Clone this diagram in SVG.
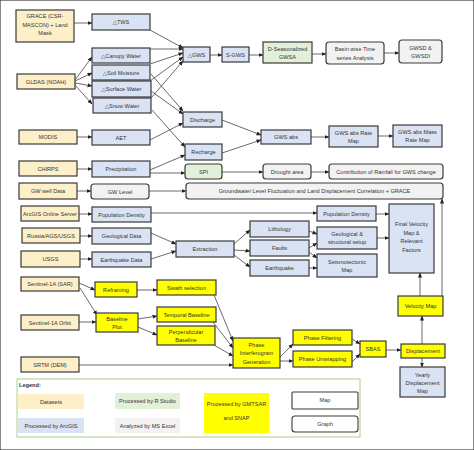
<svg xmlns="http://www.w3.org/2000/svg" width="474" height="450" viewBox="0 0 474 450">
<defs>
<marker id="ah" viewBox="0 0 10 10" refX="9" refY="5" markerWidth="5" markerHeight="5" orient="auto" markerUnits="userSpaceOnUse"><path d="M0,1 L10,5 L0,9 z" fill="#222"/></marker>
<style>
rect{stroke:#3a3a3a;stroke-width:1.2}
.ds{fill:#fdf0c9}
.ar{fill:#dae3f3}
.rs{fill:#e2efd9}
.ex{fill:#f2f2f2}
.ye{fill:#ffff00}
.wh{fill:#ffffff}
text{font-family:"Liberation Sans","DejaVu Sans",sans-serif;font-size:5.6px;fill:#333;text-anchor:middle}
.lg rect{stroke:none}
#connectors line{stroke:#444;stroke-width:0.8;fill:none;marker-end:url(#ah)}
</style>
</defs>
<rect width="474" height="450" fill="#fff" stroke="none"/>

<g id="connectors">
<line x1="74" y1="23" x2="92" y2="23"/>
<line x1="150" y1="30" x2="183" y2="48"/>
<line x1="150" y1="49" x2="183" y2="49"/>
<line x1="150" y1="64" x2="183" y2="53"/>
<line x1="150" y1="81" x2="183" y2="57"/>
<line x1="151" y1="98" x2="183" y2="61"/>
<line x1="75" y1="80" x2="92" y2="57"/>
<line x1="75" y1="81" x2="92" y2="73"/>
<line x1="75" y1="83" x2="92" y2="86"/>
<line x1="75" y1="85" x2="92" y2="104"/>
<line x1="151" y1="74" x2="183" y2="111"/>
<line x1="151" y1="91" x2="183" y2="114"/>
<line x1="152" y1="110" x2="185" y2="147"/>
<line x1="150" y1="140" x2="183" y2="123"/>
<line x1="222" y1="120" x2="261" y2="135"/>
<line x1="222" y1="153" x2="261" y2="140"/>
<line x1="210" y1="55" x2="222" y2="55"/>
<line x1="249" y1="55" x2="263" y2="55"/>
<line x1="312" y1="54" x2="326" y2="54"/>
<line x1="384" y1="53" x2="399" y2="53"/>
<line x1="311" y1="137" x2="329" y2="137"/>
<line x1="378" y1="136" x2="393" y2="136"/>
<line x1="77" y1="137" x2="92" y2="137"/>
<line x1="77" y1="169" x2="92" y2="169"/>
<line x1="150" y1="170" x2="185" y2="155"/>
<line x1="150" y1="173" x2="185" y2="173"/>
<line x1="222" y1="172" x2="263" y2="172"/>
<line x1="311" y1="172" x2="329" y2="172"/>
<line x1="77" y1="191" x2="91" y2="191"/>
<line x1="149" y1="191" x2="186" y2="191"/>
<line x1="79" y1="214" x2="92" y2="214"/>
<line x1="151" y1="213" x2="317" y2="213"/>
<line x1="80" y1="236" x2="92" y2="236"/>
<line x1="80" y1="259" x2="92" y2="259"/>
<line x1="151" y1="233" x2="176" y2="244"/>
<line x1="151" y1="259" x2="176" y2="251"/>
<line x1="234" y1="244" x2="250" y2="230"/>
<line x1="234" y1="250" x2="250" y2="251"/>
<line x1="234" y1="255" x2="250" y2="267"/>
<line x1="309" y1="231" x2="317" y2="234"/>
<line x1="309" y1="248" x2="317" y2="243"/>
<line x1="309" y1="252" x2="317" y2="258"/>
<line x1="309" y1="268" x2="317" y2="268"/>
<line x1="376" y1="214" x2="389" y2="214"/>
<line x1="377" y1="238" x2="389" y2="238"/>
<line x1="420" y1="296" x2="420" y2="273"/>
<line x1="422" y1="344" x2="422" y2="316"/>
<line x1="422" y1="358" x2="422" y2="367"/>
<line x1="442" y1="296" x2="442" y2="199"/>
<line x1="79" y1="283" x2="95" y2="290"/>
<line x1="80" y1="288" x2="97" y2="315"/>
<line x1="79" y1="322" x2="96" y2="322"/>
<line x1="137" y1="290" x2="157" y2="290"/>
<line x1="138" y1="319" x2="157" y2="316"/>
<line x1="138" y1="327" x2="157" y2="335"/>
<line x1="214" y1="295" x2="233" y2="341"/>
<line x1="213" y1="322" x2="233" y2="348"/>
<line x1="214" y1="345" x2="233" y2="356"/>
<line x1="79" y1="365" x2="233" y2="365"/>
<line x1="280" y1="357" x2="293" y2="344"/>
<line x1="280" y1="361" x2="293" y2="361"/>
<line x1="352" y1="339" x2="360" y2="344"/>
<line x1="352" y1="362" x2="360" y2="354"/>
<line x1="386" y1="350" x2="401" y2="350"/>
</g>

<g id="n-grace"><rect class="ds" x="16" y="10" width="58" height="32"/><text x="45" y="18">GRACE (CSR-</text><text x="45" y="26.5">MASCON) + Land</text><text x="45" y="35">Mask</text></g>
<g id="n-gldas"><rect class="ds" x="17" y="74" width="58" height="15"/><text x="46" y="83.5">GLDAS (NOAH)</text></g>
<g id="n-modis"><rect class="ds" x="19" y="130" width="58" height="14"/><text x="48" y="139">MODIS</text></g>
<g id="n-chirps"><rect class="ds" x="19" y="161" width="58" height="15"/><text x="48" y="170.5">CHIRPS</text></g>
<g id="n-gwwell"><rect class="ds" x="19" y="183" width="58" height="16"/><text x="48" y="193">GW well Data</text></g>
<g id="n-arcgis"><rect class="ds" x="21" y="206" width="58" height="15"/><text x="50" y="215.5">ArcGIS Online Server</text></g>
<g id="n-russia"><rect class="ds" x="22" y="228" width="58" height="15"/><text x="51" y="237.5">Russia/AGS/USGS</text></g>
<g id="n-usgs"><rect class="ds" x="21" y="251" width="59" height="16"/><text x="50.5" y="261">USGS</text></g>
<g id="n-s1sar"><rect class="ds" x="21" y="277" width="58" height="14"/><text x="50" y="286">Sentinel-1A (SAR)</text></g>
<g id="n-s1orb"><rect class="ds" x="21" y="315" width="58" height="15"/><text x="50" y="324.5">Sentinel-1A Orbit</text></g>
<g id="n-srtm"><rect class="ds" x="21" y="357" width="58" height="15"/><text x="50" y="366.5">SRTM (DEM)</text></g>

<g id="n-tws"><rect class="ar" x="92" y="14" width="58" height="16"/><text x="121" y="24">△TWS</text></g>
<g id="n-canopy"><rect class="ar" x="92" y="48" width="58" height="15"/><text x="121" y="57.5">△Canopy Water</text></g>
<g id="n-soil"><rect class="ar" x="92" y="65" width="58" height="15"/><text x="121" y="74.5">△Soil Moisture</text></g>
<g id="n-surface"><rect class="ar" x="92" y="81" width="59" height="16"/><text x="121.5" y="91">△Surface Water</text></g>
<g id="n-snow"><rect class="ar" x="93" y="98" width="58" height="15"/><text x="122" y="107.5">△Snow Water</text></g>
<g id="n-aet"><rect class="ar" x="92" y="130" width="58" height="15"/><text x="121" y="139.5">AET</text></g>
<g id="n-precip"><rect class="ar" x="92" y="161" width="58" height="16"/><text x="121" y="171">Precipitation</text></g>
<g id="n-gwlevel"><rect class="ex" x="91" y="184" width="58" height="15" rx="3"/><text x="120" y="193.5">GW Level</text></g>
<g id="n-popd1"><rect class="ar" x="92" y="207" width="59" height="15"/><text x="121.5" y="216.5">Population Density</text></g>
<g id="n-geod"><rect class="ar" x="92" y="228" width="59" height="16"/><text x="121.5" y="238">Geological Data</text></g>
<g id="n-eqd"><rect class="ar" x="92" y="252" width="59" height="15"/><text x="121.5" y="261.5">Earthquake Data</text></g>

<g id="n-gws"><rect class="ar" x="183" y="47" width="27" height="15"/><text x="196.5" y="56.5">△GWS</text></g>
<g id="n-sgws"><rect class="ar" x="222" y="47" width="27" height="15"/><text x="235.5" y="56.5">S-GWS</text></g>
<g id="n-dseas"><rect class="rs" x="263" y="42" width="49" height="21"/><text x="287.5" y="50.5">D-Seasonalized</text><text x="287.5" y="58.5">GWSA</text></g>
<g id="n-basin"><rect class="ex" x="326" y="42" width="58" height="22" rx="3"/><text x="355" y="51">Basin wise Time</text><text x="355" y="59.5">series Analysis</text></g>
<g id="n-gwsd"><rect class="ex" x="399" y="40" width="43" height="23" rx="3"/><text x="420.5" y="49.5">GWSD &amp;</text><text x="420.5" y="58">GWSDI</text></g>
<g id="n-discharge"><rect class="ar" x="183" y="112" width="39" height="15"/><text x="202.5" y="121.5">Discharge</text></g>
<g id="n-recharge"><rect class="ar" x="185" y="144" width="37" height="16"/><text x="203.5" y="154">Recharge</text></g>
<g id="n-spi"><rect class="rs" x="185" y="164" width="37" height="15" rx="3"/><text x="203.5" y="173.5">SPI</text></g>
<g id="n-gwsabs"><rect class="ar" x="261" y="130" width="50" height="14"/><text x="286" y="139">GWS abs</text></g>
<g id="n-gwsrate"><rect class="ar" x="329" y="126" width="49" height="21"/><text x="353.5" y="134.5">GWS abs Rate</text><text x="353.5" y="142.5">Map</text></g>
<g id="n-gwsmass"><rect class="ar" x="393" y="125" width="49" height="22"/><text x="417.5" y="133.5">GWS abs Mass</text><text x="417.5" y="142">Rate Map</text></g>
<g id="n-drought"><rect class="ex" x="263" y="164" width="48" height="15" rx="3"/><text x="287" y="173.5">Drought area</text></g>
<g id="n-contrib"><rect class="ex" x="329" y="164" width="114" height="15" rx="3"/><text x="386" y="173.5">Contribution of Rainfall for GWS change</text></g>
<g id="n-gwfluct"><rect class="ex" x="186" y="183" width="257" height="16" rx="3"/><text x="314.5" y="193">Groundwater Level Fluctuation and Land Displacement Correlation + GRACE</text></g>

<g id="n-extraction"><rect class="ar" x="176" y="241" width="58" height="16"/><text x="205" y="251">Extraction</text></g>
<g id="n-litho"><rect class="ar" x="250" y="221" width="59" height="16"/><text x="279.5" y="231">Lithology</text></g>
<g id="n-faults"><rect class="ar" x="250" y="240" width="59" height="16"/><text x="279.5" y="250">Faults</text></g>
<g id="n-eq"><rect class="ar" x="250" y="260" width="59" height="16"/><text x="279.5" y="270">Earthquake</text></g>
<g id="n-popd2"><rect class="ar" x="317" y="206" width="59" height="15"/><text x="346.5" y="215.5">Population Density</text></g>
<g id="n-geostruct"><rect class="ar" x="317" y="227" width="60" height="22"/><text x="347" y="236">Geological &amp;</text><text x="347" y="244">structural setup</text></g>
<g id="n-seismo"><rect class="ar" x="317" y="254" width="60" height="23"/><text x="347" y="263.5">Seismotectonic</text><text x="347" y="272">Map</text></g>
<g id="n-final"><rect class="ar" x="389" y="204" width="45" height="69"/><text x="411.5" y="226">Final Velocity</text><text x="411.5" y="234.5">Map &amp;</text><text x="411.5" y="243">Relevant</text><text x="411.5" y="251.5">Factors</text></g>

<g id="n-reframing"><rect class="ye" x="95" y="282" width="42" height="15"/><text x="116" y="291.5">Reframing</text></g>
<g id="n-swath"><rect class="ye" x="157" y="280" width="59" height="15"/><text x="186.5" y="289.5">Swath selection</text></g>
<g id="n-baseline"><rect class="ye" x="96" y="313" width="42" height="19"/><text x="117" y="321">Baseline</text><text x="117" y="329">Plot</text></g>
<g id="n-temporal"><rect class="ye" x="157" y="307" width="59" height="15"/><text x="186.5" y="316.5">Temporal Baseline</text></g>
<g id="n-perp"><rect class="ye" x="157" y="326" width="58" height="19"/><text x="186" y="334">Perpendicular</text><text x="186" y="342">Baseline</text></g>
<g id="n-pig"><rect class="ye" x="233" y="338" width="47" height="30"/><text x="256.5" y="347">Phase</text><text x="256.5" y="355">Interferogram</text><text x="256.5" y="363.5">Generation</text></g>
<g id="n-pfilt"><rect class="ye" x="293" y="330" width="59" height="15"/><text x="322.5" y="339.5">Phase Filtering</text></g>
<g id="n-punwrap"><rect class="ye" x="293" y="351" width="59" height="16"/><text x="322.5" y="361">Phase Unwrapping</text></g>
<g id="n-sbas"><rect class="ye" x="360" y="341" width="26" height="16"/><text x="373" y="351">SBAS</text></g>
<g id="n-disp"><rect class="ye" x="401" y="344" width="44" height="14"/><text x="423" y="353">Displacement</text></g>
<g id="n-velmap"><rect class="ye" x="398" y="296" width="45" height="20"/><text x="420.5" y="308">Velocity Map</text></g>
<g id="n-yearly"><rect class="ar" x="400" y="367" width="45" height="30"/><text x="422.5" y="376.5">Yearly</text><text x="422.5" y="384.5">Displacement</text><text x="422.5" y="393">Map</text></g>

<g id="legend" class="lg">
<rect x="17" y="379" width="343" height="58" fill="#fff" style="stroke:#a9d18e;stroke-width:1"/>
<text x="19" y="387" style="text-anchor:start;font-weight:bold">Legend:</text>
<rect class="ds" x="18" y="394" width="66" height="15"/><text x="51" y="403.5">Datasets</text>
<rect class="ar" x="18" y="418" width="66" height="15"/><text x="51" y="427.5">Processed by ArcGIS</text>
<rect class="rs" x="115" y="393" width="65" height="16"/><text x="147.5" y="403">Processed by R Studio</text>
<rect class="ex" x="115" y="418" width="65" height="15"/><text x="147.5" y="427.5">Analyzed by MS Excel</text>
<rect class="ye" x="204" y="393" width="65" height="40"/><text x="236.5" y="406">Processed by GMTSAR</text><text x="236.5" y="420">and SNAP</text>
<rect class="wh" x="292" y="392" width="66" height="17" rx="1" style="stroke:#3a3a3a;stroke-width:1.1"/><text x="325" y="402">Map</text>
<rect class="wh" x="292" y="416" width="66" height="16" rx="3" style="stroke:#3a3a3a;stroke-width:1.1"/><text x="325" y="426">Graph</text>
</g>
</svg>
